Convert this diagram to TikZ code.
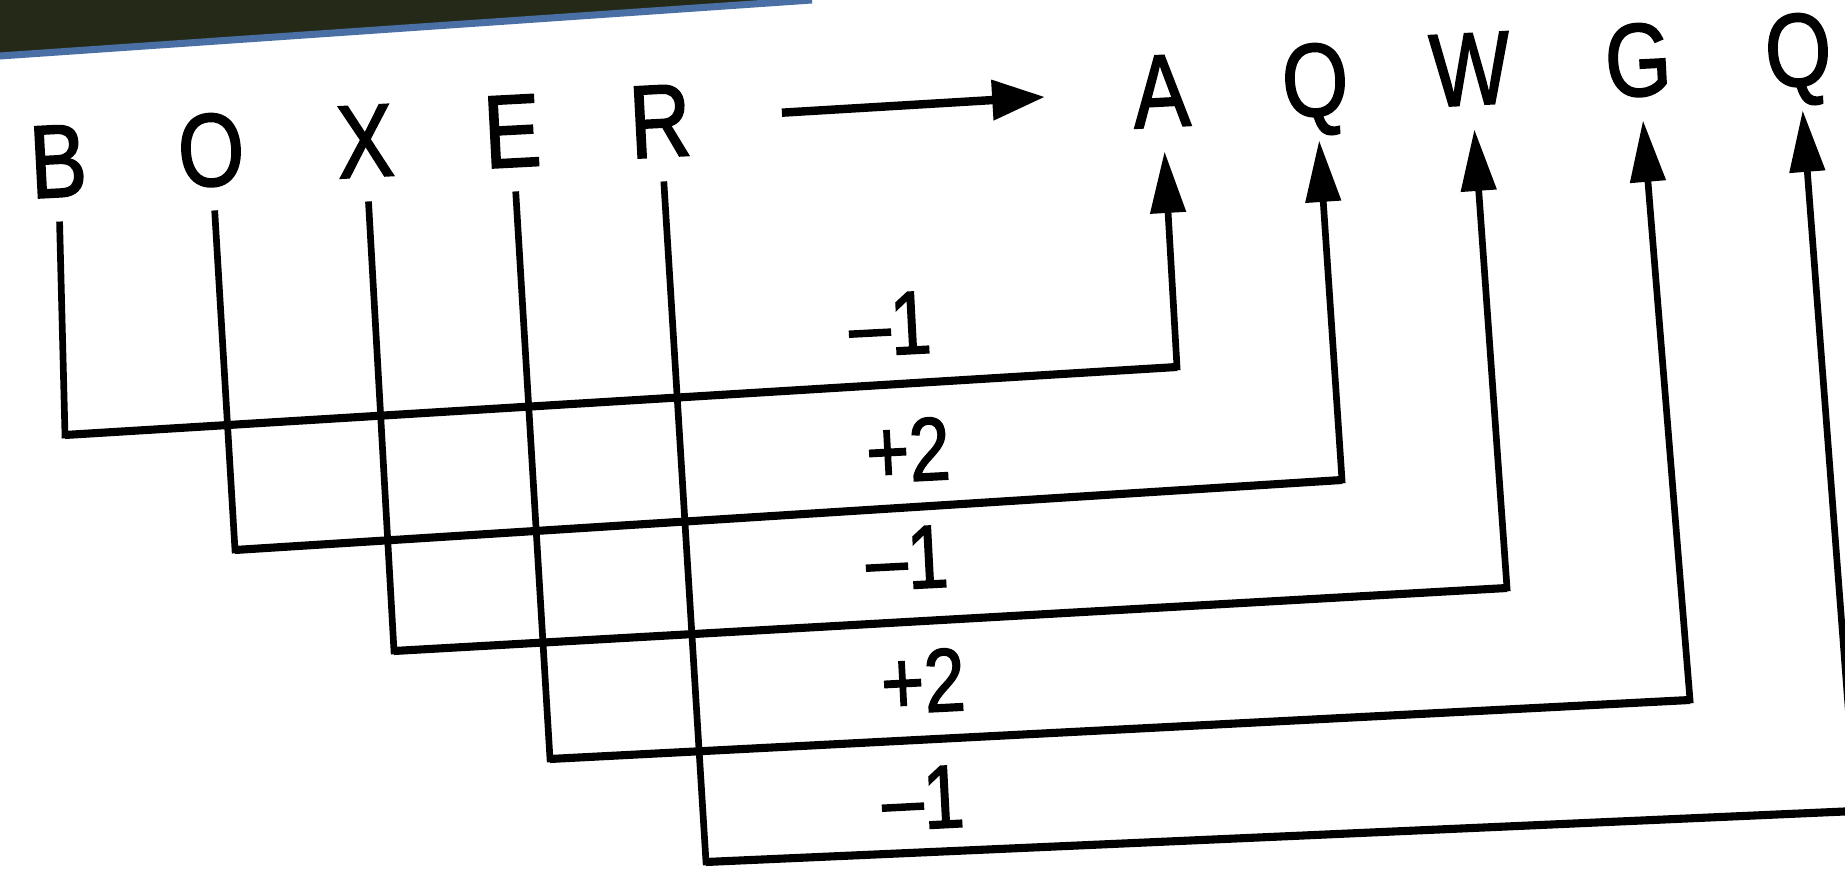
\documentclass[tikz,border=0pt]{standalone}
\usepackage{fontspec}
\setmainfont{Liberation Sans}[FakeStretch=0.82,FakeBold=1.6]
\usetikzlibrary{arrows.meta}
\definecolor{barcol}{RGB}{37,42,24}
\definecolor{edgecol}{RGB}{74,111,165}
\tikzset{
  letter/.style={font=\fontsize{29.5}{31}\selectfont, inner sep=0pt, outer sep=7pt,
                 text height=21pt, text depth=0pt, rotate=3},
  shiftlab/.style={font=\fontsize{25.5}{27}\selectfont, inner sep=0pt, rotate=3},
  conn/.style={line width=1.9pt, line join=miter,
               -{Triangle[length=17.5pt,width=9.8pt]}},
  hseg/.style={line width=2.3pt, line cap=butt},
  mainarrow/.style={line width=2.4pt, -{Triangle[length=15pt,width=11pt]},
                    shorten <=19pt, shorten >=18pt},
}
\begin{document}
\begin{tikzpicture}[x=0.01cm,y=-0.01cm]
\useasboundingbox (0,0) rectangle (1845,871);
\clip (0,0) rectangle (1845,871);
\fill[white] (0,0) rectangle (1845,871);
% header band
\fill[barcol] (0,0) -- (812,0) -- (0,56) -- cycle;
\draw[edgecol, line width=2pt] (0,56) -- (812,0);
% source letters
\node[letter] (B)  at (58,160)  {B};
\node[letter] (O)  at (211,149) {O};
\node[letter] (X)  at (365,140) {X};
\node[letter] (E)  at (512,130) {E};
\node[letter] (R)  at (660,120) {R};
% target letters
\node[letter] (A)  at (1161,90) {A};
\node[letter] (Q1) at (1315,79) {Q};
\node[letter] (W)  at (1470,68) {W};
\node[letter] (G)  at (1638,59) {G};
\node[letter] (Q2) at (1798,49) {Q};
% main arrow
\draw[mainarrow] (R) -- (A);
% corners
\coordinate (b1) at (65,435);   \coordinate (b2) at (1177,367);
\coordinate (o1) at (235,550);  \coordinate (o2) at (1342,480);
\coordinate (x1) at (394,651);  \coordinate (x2) at (1507,588);
\coordinate (e1) at (550,759);  \coordinate (e2) at (1690,700);
\coordinate (r1) at (706,862);  \coordinate (r2) at (1856,811);
% connectors
\draw[conn] (B) -- (b1) -- (b2) -- (A);
\draw[conn] (O) -- (o1) -- (o2) -- (Q1);
\draw[conn] (X) -- (x1) -- (x2) -- (W);
\draw[conn] (E) -- (e1) -- (e2) -- (G);
\draw[conn] (R) -- (r1) -- (r2) -- (Q2);
% heavier horizontal runs
\draw[hseg] (b1) -- (b2);
\draw[hseg] (o1) -- (o2);
\draw[hseg] (x1) -- (x2);
\draw[hseg] (e1) -- (e2);
\draw[hseg] (r1) -- (r2);
% shift labels
\node[shiftlab] (l1) at (890,324) {\textendash1};
\node[shiftlab] (l2) at (908,450) {+2};
\node[shiftlab] (l3) at (907,558) {\textendash1};
\node[shiftlab] (l4) at (923,681) {+2};
\node[shiftlab] (l5) at (923,798) {\textendash1};
\end{tikzpicture}
\end{document}
